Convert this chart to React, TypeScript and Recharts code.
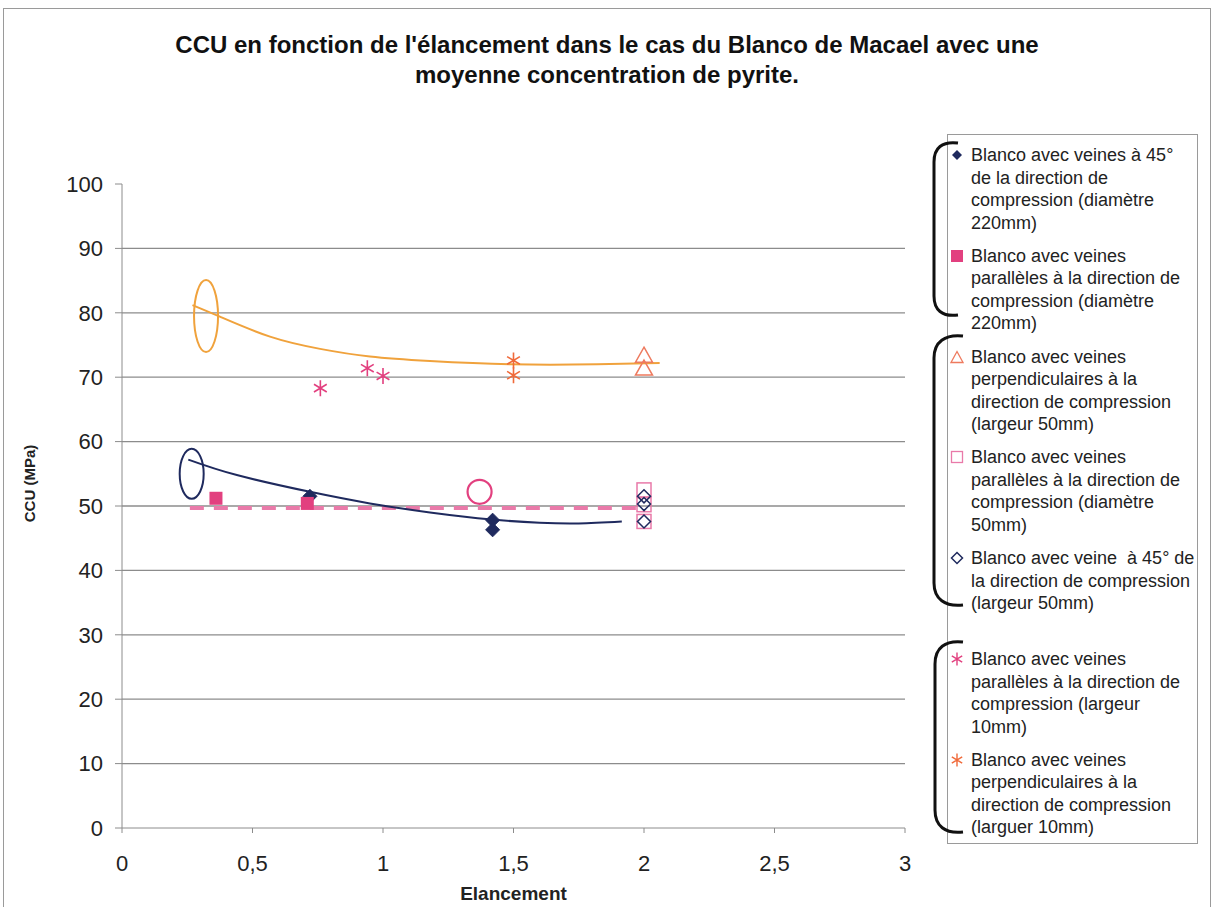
import React from 'react';
import { ComposedChart, XAxis, YAxis, CartesianGrid, Scatter, Line, Label } from 'recharts';

const FONT = "'Liberation Sans', Arial, sans-serif";

const xTicks = [0, 0.5, 1, 1.5, 2, 2.5, 3];
const yTicks = [0, 10, 20, 30, 40, 50, 60, 70, 80, 90, 100];
const gridValues = [10, 20, 30, 40, 50, 60, 70, 80, 90];

// Series (Elancement x, CCU y)
const navyDiamond220 = [
  { x: 0.72, y: 51.5 },
  { x: 1.42, y: 47.8 },
  { x: 1.42, y: 46.3 },
];
const pinkSquare220 = [
  { x: 0.36, y: 51.2 },
  { x: 0.71, y: 50.4 },
];
const orangeTriangle50 = [
  { x: 2.0, y: 73.5 },
  { x: 2.0, y: 71.5 },
];
const pinkSquare50 = [
  { x: 2.0, y: 52.5 },
  { x: 2.0, y: 50.2 },
  { x: 2.0, y: 47.6 },
];
const navyDiamond50 = [
  { x: 2.0, y: 51.5 },
  { x: 2.0, y: 50.3 },
  { x: 2.0, y: 47.6 },
];
const pinkStar10 = [
  { x: 0.76, y: 68.3 },
  { x: 0.94, y: 71.4 },
  { x: 1.0, y: 70.2 },
];
const orangeStar10 = [
  { x: 1.5, y: 72.6 },
  { x: 1.5, y: 70.3 },
];

// Trend curves
const orangeTrend = [
  { x: 0.27, y: 81.2 },
  { x: 0.375, y: 79.4 },
  { x: 0.567, y: 76.3 },
  { x: 0.759, y: 74.4 },
  { x: 0.95, y: 73.2 },
  { x: 1.18, y: 72.5 },
  { x: 1.49, y: 72.0 },
  { x: 1.82, y: 72.0 },
  { x: 2.06, y: 72.2 },
];
const navyTrend = [
  { x: 0.254, y: 57.2 },
  { x: 0.44, y: 54.8 },
  { x: 0.72, y: 52.2 },
  { x: 0.95, y: 50.4 },
  { x: 1.18, y: 49.0 },
  { x: 1.417, y: 47.9 },
  { x: 1.6, y: 47.4 },
  { x: 1.75, y: 47.3 },
  { x: 1.915, y: 47.6 },
];
const pinkMean = [
  { x: 0.26, y: 49.7 },
  { x: 2.0, y: 49.7 },
];

// Annotation marks
const orangeEllipse = [{ x: 0.322, y: 79.5 }];
const navyEllipse = [{ x: 0.267, y: 55.0 }];
const pinkCircle = [{ x: 1.37, y: 52.2 }];

const C_NAVY = '#1f2a5e';
const C_PINK = '#e2407f';
const C_PINK_LIGHT = '#e97aa9';
const C_ORANGE_TRI = '#ee7a5e';
const C_ORANGE_STAR = '#f06a3a';
const C_ORANGE_LINE = '#f0a23c';

const diamondPath = (cx: number, cy: number, r: number) =>
  `M${cx},${cy - r} L${cx + r},${cy} L${cx},${cy + r} L${cx - r},${cy} Z`;
const trianglePath = (cx: number, cy: number, w: number, h: number) =>
  `M${cx},${cy - h / 2} L${cx + w / 2},${cy + h / 2} L${cx - w / 2},${cy + h / 2} Z`;
const starPath = (cx: number, cy: number, r: number) => {
  const d = r * 0.8;
  return `M${cx},${cy - r} L${cx},${cy + r} M${cx - d},${cy - d * 0.6} L${cx + d},${cy + d * 0.6} M${cx - d},${cy + d * 0.6} L${cx + d},${cy - d * 0.6}`;
};

const FilledDiamond = (p: any) => <path d={diamondPath(p.cx, p.cy, 7)} fill={C_NAVY} stroke={C_NAVY} />;
const FilledSquare = (p: any) => <rect x={p.cx - 6.5} y={p.cy - 6.5} width={13} height={13} fill={C_PINK} />;
const HollowTriangle = (p: any) => (
  <path d={trianglePath(p.cx, p.cy, 17, 15)} fill="none" stroke={C_ORANGE_TRI} strokeWidth={1.5} />
);
const HollowSquare = (p: any) => (
  <rect x={p.cx - 7} y={p.cy - 7} width={14} height={14} fill="none" stroke={C_PINK_LIGHT} strokeWidth={1.5} />
);
const HollowDiamond = (p: any) => (
  <path d={diamondPath(p.cx, p.cy, 6.5)} fill="none" stroke={C_NAVY} strokeWidth={1.5} />
);
const PinkStar = (p: any) => <path d={starPath(p.cx, p.cy, 8)} fill="none" stroke={C_PINK} strokeWidth={1.6} />;
const OrangeStar = (p: any) => <path d={starPath(p.cx, p.cy, 8)} fill="none" stroke={C_ORANGE_STAR} strokeWidth={1.6} />;
const OrangeEllipseShape = (p: any) => (
  <ellipse cx={p.cx} cy={p.cy} rx={12} ry={36} fill="none" stroke={C_ORANGE_LINE} strokeWidth={2} />
);
const NavyEllipseShape = (p: any) => (
  <ellipse cx={p.cx} cy={p.cy} rx={12} ry={25} fill="none" stroke={C_NAVY} strokeWidth={2} />
);
const PinkCircleShape = (p: any) => (
  <circle cx={p.cx} cy={p.cy} r={12} fill="none" stroke={C_PINK} strokeWidth={2.2} />
);

type LegendItem = { icon: React.ReactNode; lines: string[] };

const legendItems: LegendItem[] = [
  {
    icon: <path d={diamondPath(7, 7, 5)} fill={C_NAVY} />,
    lines: ['Blanco avec veines à 45°', 'de la direction de', 'compression (diamètre', '220mm)'],
  },
  {
    icon: <rect x={1} y={1} width={12} height={12} fill={C_PINK} />,
    lines: ['Blanco avec veines', 'parallèles à la direction de', 'compression (diamètre', '220mm)'],
  },
  {
    icon: <path d={trianglePath(7, 7, 12, 11)} fill="none" stroke={C_ORANGE_TRI} strokeWidth={1.3} />,
    lines: ['Blanco avec veines', 'perpendiculaires à la', 'direction de compression', '(largeur 50mm)'],
  },
  {
    icon: <rect x={1.5} y={1.5} width={11} height={11} fill="none" stroke={C_PINK_LIGHT} strokeWidth={1.3} />,
    lines: ['Blanco avec veines', 'parallèles à la direction de', 'compression (diamètre', '50mm)'],
  },
  {
    icon: <path d={diamondPath(7, 7, 5.5)} fill="none" stroke={C_NAVY} strokeWidth={1.5} />,
    lines: ['Blanco avec veine  à 45° de', 'la direction de compression', '(largeur 50mm)'],
  },
  {
    icon: <path d={starPath(7, 7, 6.5)} fill="none" stroke={C_PINK} strokeWidth={1.4} />,
    lines: ['Blanco avec veines', 'parallèles à la direction de', 'compression (largeur', '10mm)'],
  },
  {
    icon: <path d={starPath(7, 7, 6.5)} fill="none" stroke={C_ORANGE_STAR} strokeWidth={1.4} />,
    lines: ['Blanco avec veines', 'perpendiculaires à la', 'direction de compression', '(larguer 10mm)'],
  },
];

const fmt = (v: number) => String(v).replace('.', ',');

export default function App() {
  return (
    <div style={{ position: 'absolute', left: 0, top: 0, width: 1216, height: 907, background: '#fff', fontFamily: FONT }}>
      {/* outer frame */}
      <div
        style={{
          position: 'absolute',
          left: 3,
          top: 8,
          width: 1208,
          height: 905,
          border: '1px solid #9a9a9a',
          boxSizing: 'border-box',
        }}
      />
      {/* title */}
      <div
        style={{
          position: 'absolute',
          left: 0,
          top: 30,
          width: 1214,
          textAlign: 'center',
          fontSize: 24,
          fontWeight: 'bold',
          lineHeight: '30px',
          color: '#111',
        }}
      >
        CCU en fonction de l'élancement dans le cas du Blanco de Macael avec une
        <br />
        moyenne concentration de pyrite.
      </div>

      <div style={{ position: 'absolute', left: 0, top: 0 }}>
        <ComposedChart width={1216} height={907} margin={{ top: 184, right: 311, bottom: 0, left: 0 }}>
          <CartesianGrid horizontal vertical={false} stroke="#8c8c8c" strokeWidth={1.3} horizontalValues={gridValues} />
          <XAxis
            type="number"
            dataKey="x"
            domain={[0, 3]}
            ticks={xTicks}
            tickFormatter={fmt}
            height={79}
            stroke="#8c8c8c"
            tickSize={5}
            tickMargin={22}
            tick={{ fill: '#222', fontSize: 22, fontFamily: FONT }}
            allowDataOverflow
          >
            <Label
              content={(props: any) => {
                const vb = props.viewBox || { x: 122, width: 783, y: 828, height: 79 };
                return (
                  <text
                    x={vb.x + vb.width / 2}
                    y={vb.y + 72}
                    textAnchor="middle"
                    fontSize={19}
                    fontWeight="bold"
                    fontFamily={FONT}
                    fill="#222"
                  >
                    Elancement
                  </text>
                );
              }}
            />
          </XAxis>
          <YAxis
            type="number"
            dataKey="y"
            domain={[0, 100]}
            ticks={yTicks}
            width={122}
            stroke="#8c8c8c"
            tickSize={7}
            tickMargin={12}
            tick={{ fill: '#222', fontSize: 22, fontFamily: FONT }}
            allowDataOverflow
          >
            <Label
              content={(props: any) => {
                const vb = props.viewBox || { x: 0, y: 184, width: 122, height: 644 };
                const cx = vb.x + 30;
                const cy = vb.y + vb.height * 0.465;
                return (
                  <text
                    x={cx}
                    y={cy}
                    transform={`rotate(-90 ${cx} ${cy})`}
                    textAnchor="middle"
                    dominantBaseline="central"
                    fontSize={15}
                    fontWeight="bold"
                    fontFamily={FONT}
                    fill="#222"
                  >
                    CCU (MPa)
                  </text>
                );
              }}
            />
          </YAxis>

          <Line data={pinkMean} dataKey="y" type="linear" stroke={C_PINK_LIGHT} strokeWidth={4} strokeDasharray="14 10" dot={false} isAnimationActive={false} />
          <Line data={orangeTrend} dataKey="y" type="natural" stroke={C_ORANGE_LINE} strokeWidth={2} dot={false} isAnimationActive={false} />
          <Line data={navyTrend} dataKey="y" type="natural" stroke={C_NAVY} strokeWidth={2} dot={false} isAnimationActive={false} />

          <Scatter data={pinkSquare50} dataKey="y" shape={HollowSquare} isAnimationActive={false} />
          <Scatter data={navyDiamond50} dataKey="y" shape={HollowDiamond} isAnimationActive={false} />
          <Scatter data={orangeTriangle50} dataKey="y" shape={HollowTriangle} isAnimationActive={false} />
          <Scatter data={pinkStar10} dataKey="y" shape={PinkStar} isAnimationActive={false} />
          <Scatter data={orangeStar10} dataKey="y" shape={OrangeStar} isAnimationActive={false} />
          <Scatter data={navyDiamond220} dataKey="y" shape={FilledDiamond} isAnimationActive={false} />
          <Scatter data={pinkSquare220} dataKey="y" shape={FilledSquare} isAnimationActive={false} />

          <Scatter data={orangeEllipse} dataKey="y" shape={OrangeEllipseShape} isAnimationActive={false} />
          <Scatter data={navyEllipse} dataKey="y" shape={NavyEllipseShape} isAnimationActive={false} />
          <Scatter data={pinkCircle} dataKey="y" shape={PinkCircleShape} isAnimationActive={false} />
        </ComposedChart>
      </div>

      {/* legend box */}
      <div
        style={{
          position: 'absolute',
          left: 947,
          top: 134,
          width: 251,
          height: 710,
          border: '1px solid #9a9a9a',
          boxSizing: 'border-box',
          overflow: 'hidden',
          background: '#fff',
        }}
      >
        {legendItems.map((it, i) => (
          <div key={i} style={{ position: 'absolute', left: 0, top: 9 + i * 100.8, width: 260 }}>
            <svg width={14} height={14} style={{ position: 'absolute', left: 2, top: 4 }}>
              {it.icon}
            </svg>
            <div
              style={{
                position: 'absolute',
                left: 23,
                top: 0,
                fontSize: 18,
                lineHeight: '22.5px',
                color: '#222',
                whiteSpace: 'pre',
              }}
            >
              {it.lines.map((l, j) => (
                <div key={j}>{l}</div>
              ))}
            </div>
          </div>
        ))}
      </div>

      {/* brackets */}
      <svg width={1216} height={907} style={{ position: 'absolute', left: 0, top: 0, pointerEvents: 'none' }}>
        <path d="M958,143 C942,141 934,148 934,162 L934,296 C934,310 942,317 958,315" fill="none" stroke="#111" strokeWidth={3} />
        <path d="M963,336 C945,334 934,342 934,358 L934,583 C934,599 945,607 963,605" fill="none" stroke="#111" strokeWidth={3} />
        <path d="M963,642 C945,640 935,648 935,664 L935,810 C935,826 945,834 963,832" fill="none" stroke="#111" strokeWidth={3} />
      </svg>
    </div>
  );
}
